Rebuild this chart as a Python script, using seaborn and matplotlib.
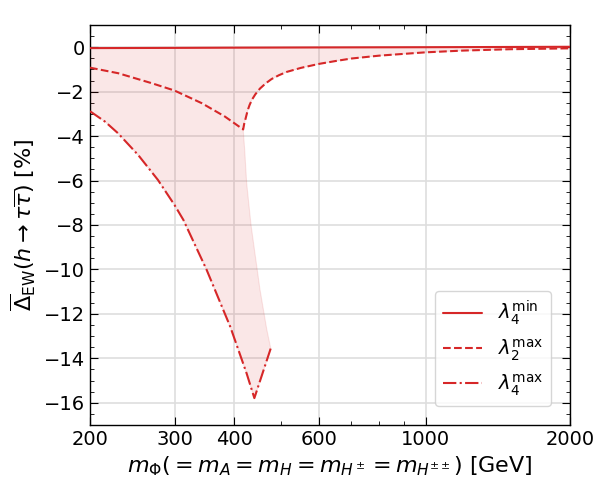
import numpy as np
import pandas as pd
import seaborn as sns
import matplotlib.pyplot as plt
from matplotlib.ticker import FixedLocator, NullFormatter, MultipleLocator

# curves (mass in GeV, correction in %)
m_l4min = [200, 300, 400, 600, 1000, 2000]
d_l4min = [-0.04, -0.03, -0.02, -0.01, 0.0, 0.02]

m_l2max = [200, 229, 269, 300, 342, 382, 417,
           419, 422, 426, 430, 435, 442, 452, 465, 478, 495, 514, 550,
           600, 650, 700, 800, 900, 1000, 1200, 1500, 2000]
d_l2max = [-0.92, -1.17, -1.62, -1.95, -2.52, -3.12, -3.70,
           -3.45, -3.20, -2.85, -2.60, -2.36, -2.12, -1.86, -1.62, -1.43, -1.26, -1.11, -0.93,
           -0.75, -0.62, -0.51, -0.38, -0.30, -0.23, -0.15, -0.09, -0.05]

m_l4max = [200, 215, 229, 252, 277, 300, 313, 350, 392, 424, 440, 476]
d_l4max = [-2.88, -3.35, -3.88, -4.85, -5.97, -7.1, -7.77, -10.02, -12.58, -14.68, -15.79, -13.55]

# right-hand edge of the allowed band, between the kink and the end of lambda4 max
m_edge = [417, 420, 424, 433, 452, 467, 476]
d_edge = [-3.70, -4.6, -6.1, -8.0, -10.9, -12.7, -13.55]

red = "#d62728"

sns.set_style("ticks")
plt.rcParams["font.family"] = ["DejaVu Sans"]
plt.rcParams["mathtext.fontset"] = "dejavusans"
for key in ["text.color", "axes.labelcolor", "xtick.color", "ytick.color", "axes.edgecolor"]:
    plt.rcParams[key] = "black"

fig = plt.figure(figsize=(6, 5), dpi=100)
ax = fig.add_axes([0.15, 0.15, 0.80, 0.80])

# shaded region: solid on top, dashed back to the kink, edge down, dash-dot back
k = m_l2max.index(417)
poly_x = m_l4min + m_l2max[:k - 1:-1] + m_edge[1:] + m_l4max[-2::-1]
poly_y = d_l4min + d_l2max[:k - 1:-1] + d_edge[1:] + d_l4max[-2::-1]
ax.fill(poly_x, poly_y, facecolor=red, alpha=0.11, edgecolor=red, lw=0.8, zorder=1)

sns.lineplot(x=m_l4min, y=d_l4min, ax=ax, color=red, lw=1.5, sort=False,
             label=r"$\lambda_4^{\rm min}$", zorder=3)
sns.lineplot(x=m_l2max, y=d_l2max, ax=ax, color=red, lw=1.5, sort=False,
             linestyle="--", label=r"$\lambda_2^{\rm max}$", zorder=3)
sns.lineplot(x=m_l4max, y=d_l4max, ax=ax, color=red, lw=1.5, sort=False,
             linestyle="-.", label=r"$\lambda_4^{\rm max}$", zorder=3)

ax.set_xscale("log")
ax.set_xlim(200, 2000)
ax.set_ylim(-17, 1)
xt = [200, 300, 400, 600, 1000, 2000]
ax.xaxis.set_major_locator(FixedLocator(xt))
ax.set_xticklabels([str(v) for v in xt])
ax.xaxis.set_minor_locator(FixedLocator([500, 700, 800, 900]))
ax.xaxis.set_minor_formatter(NullFormatter())
ax.yaxis.set_major_locator(MultipleLocator(2))
ax.yaxis.set_minor_locator(MultipleLocator(0.5))

ax.tick_params(which="both", direction="in", top=True, right=True, labelsize=14)
ax.tick_params(which="major", length=6)
ax.tick_params(which="minor", length=3)
for s in ax.spines.values():
    s.set_linewidth(1.0)
    s.set_color("black")

ax.grid(True, which="major", color="0.87", lw=1.2, zorder=0)
ax.set_axisbelow(True)

ax.set_xlabel(r"$m_\Phi(=m_A=m_H=m_{H^\pm}=m_{H^{\pm\pm}})$ [GeV]", fontsize=16)
ax.set_ylabel(r"$\overline{\Delta}_{\rm EW}(h\to\tau\overline{\tau})$ [%]", fontsize=16)

ax.legend(loc="lower right", fontsize=14, borderaxespad=1.0, handlelength=2.0)

fig.savefig("out.png", dpi=100)
